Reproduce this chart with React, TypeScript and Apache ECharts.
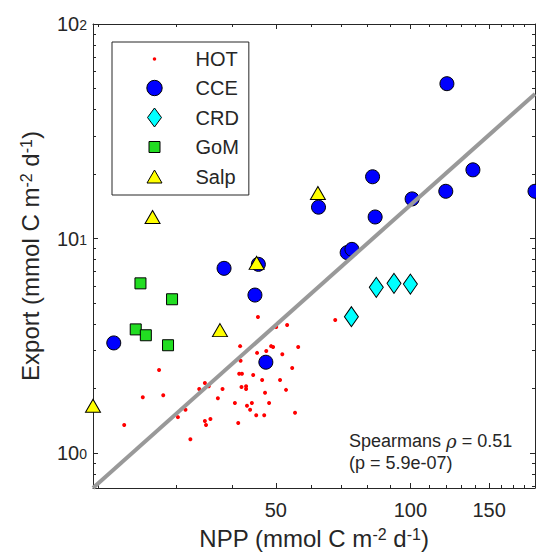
import React, { useEffect, useRef } from 'react';
import * as echarts from 'echarts';

// ---- data (NPP, Export) ----
const hotData: [number, number][] = [
  [22.9, 1.35], [25.2, 1.82], [27.4, 2.44], [28.0, 1.86], [30.2, 1.47], [31.4, 1.59],
  [32.2, 1.16], [33.7, 1.99], [34.7, 2.12], [34.7, 1.41], [34.9, 1.35], [35.4, 2.05],
  [35.7, 1.44], [37.1, 1.8], [38.0, 1.99], [40.5, 1.71], [41.2, 1.38], [41.6, 3.15],
  [41.7, 2.69], [41.4, 2.34], [42.0, 2.34], [41.9, 2.03], [42.9, 2.05], [42.9, 1.99],
  [43.1, 1.66], [43.8, 1.59], [44.2, 1.71], [44.5, 2.31], [45.2, 1.5], [45.4, 2.93],
  [45.6, 4.31], [46.6, 2.19], [47.1, 1.5], [47.3, 1.91], [47.6, 2.99], [48.3, 1.71],
  [48.8, 3.15], [49.3, 3.12], [50.1, 3.87], [51.1, 2.19], [51.7, 2.89], [52.7, 1.97],
  [53.0, 3.95], [54.4, 2.49], [55.2, 1.54], [56.1, 3.12], [67.9, 4.17]
];
const cceData: [number, number][] = [
  [21.7, 3.26], [38.3, 7.26], [44.9, 5.45], [45.7, 7.58], [47.5, 2.65], [62.3, 14.0],
  [72.2, 8.6], [74.0, 8.9], [82.3, 19.4], [83.4, 12.6], [100.9, 15.3], [120.7, 52.7],
  [120.0, 16.6], [138.0, 20.9], [190.0, 16.6]
];
const crdData: [number, number][] = [[73.8, 4.32], [83.9, 5.92], [91.9, 6.18], [100.0, 6.13]];
const gomData: [number, number][] = [[24.9, 6.18], [29.3, 5.21], [24.3, 3.77], [25.6, 3.54], [28.7, 3.18]];
const salpData: [number, number][] = [[19.5, 1.66], [37.5, 3.74], [26.5, 12.6], [45.3, 7.7], [62.1, 16.3]];
const fitX = [19.5, 190];
const fitY = [0.687, 47.2];

const seriesNames = ['HOT', 'CCE', 'CRD', 'GoM', 'Salp'];
const xRange = [19.5, 190];
const yRange = [0.687, 100];
const xMajorTicks = [50, 100, 150];
const xMinorTicks = [20, 30, 40, 60, 70, 80, 90, 110, 120, 130, 140, 160, 170, 180];
const yMajorTicks = [1, 10, 100];
const yMinorTicks = [0.7, 0.8, 0.9, 2, 3, 4, 5, 6, 7, 8, 9, 20, 30, 40, 50, 60, 70, 80, 90];
const spearmanRho = '0.51';
const pValue = '5.9e-07';

const FONT = "'Liberation Sans', Arial, Helvetica, sans-serif";
const INK = '#262626';
const lg = Math.log10;
const toLog = (pts: [number, number][]) => pts.map(([x, y]) => [lg(x), lg(y)]);

const titleRich = {
  n: { fontSize: 24, lineHeight: 24, verticalAlign: 'bottom', fontFamily: FONT, color: INK },
  s: { fontSize: 16, lineHeight: 16, verticalAlign: 'top', padding: [0, 0, 12, 0], fontFamily: FONT, color: INK },
};

const legendIcons = [
  'path://M0,0M20,20M8.2,10a1.8,1.8 0 1,0 3.6,0a1.8,1.8 0 1,0 -3.6,0z',
  'path://M0,0M20,20M2.3,10a7.7,7.7 0 1,0 15.4,0a7.7,7.7 0 1,0 -15.4,0z',
  'path://M0,0M20,20M10,0.5L17,10L10,19.5L3,10z',
  'path://M0,0M20,20M4.5,4.5L15.5,4.5L15.5,15.5L4.5,15.5z',
  'path://M0,0M20,20M10,3.5L17.5,16.5L2.5,16.5z',
];

function axisBase(range: number[]) {
  return {
    type: 'value',
    min: lg(range[0]),
    max: lg(range[1]),
    splitLine: { show: false },
    splitArea: { show: false },
  };
}

function tickAxis(range: number[], position: string, ticks: number[], len: number, showLine: boolean) {
  return {
    ...axisBase(range),
    position,
    axisLine: { show: showLine, onZero: false, lineStyle: { color: INK, width: 1 } },
    axisTick: { show: true, inside: true, length: len, customValues: ticks.map(lg), lineStyle: { color: INK, width: 1 } },
    axisLabel: { show: false },
  };
}

export default function App() {
  const ref = useRef<HTMLDivElement>(null);
  useEffect(() => {
    if (!ref.current) return;
    const chart = echarts.init(ref.current, null, { renderer: 'svg' });
    const option: any = {
      animation: false,
      backgroundColor: '#ffffff',
      grid: { left: 93, right: 1, top: 24, bottom: 72, containLabel: false },
      xAxis: [
        {
          ...tickAxis(xRange, 'bottom', xMajorTicks, 5, true),
          axisLabel: {
            show: true,
            customValues: xMajorTicks.map(lg),
            formatter: (v: number) => String(Math.round(Math.pow(10, v))),
            fontSize: 20, color: INK, fontFamily: FONT, margin: 12,
          },
          name: '{n|NPP (mmol C m}{s|-2}{n| d}{s|-1}{n|)}',
          nameLocation: 'middle',
          nameGap: 38,
          nameTextStyle: { fontFamily: FONT, color: INK, fontSize: 24, rich: titleRich },
        },
        tickAxis(xRange, 'bottom', xMinorTicks, 3, false),
        tickAxis(xRange, 'top', xMajorTicks, 5, true),
        tickAxis(xRange, 'top', xMinorTicks, 3, false),
      ],
      yAxis: [
        {
          ...tickAxis(yRange, 'left', yMajorTicks, 5, true),
          axisLabel: {
            show: true,
            customValues: yMajorTicks.map(lg),
            formatter: (v: number) => `{b|10}{s|${Math.round(v)}}`,
            margin: 6,
            rich: {
              b: { fontSize: 20, lineHeight: 20, verticalAlign: 'bottom', fontFamily: FONT, color: INK },
              s: { fontSize: 14, lineHeight: 14, verticalAlign: 'top', padding: [4, 0, 9, 0], fontFamily: FONT, color: INK },
            },
          },
          name: '{n|Export (mmol C m}{s|-2}{n| d}{s|-1}{n|)}',
          nameLocation: 'middle',
          nameRotate: 90,
          nameGap: 51,
          nameTextStyle: { fontFamily: FONT, color: INK, fontSize: 24, rich: titleRich },
        },
        tickAxis(yRange, 'left', yMinorTicks, 3, false),
        tickAxis(yRange, 'right', yMajorTicks, 5, true),
        tickAxis(yRange, 'right', yMinorTicks, 3, false),
      ],
      legend: {
        orient: 'vertical',
        left: 112,
        top: 42,
        padding: [7, 10, 8, 32],
        itemGap: 8.5,
        itemWidth: 20,
        itemHeight: 20,
        borderColor: INK,
        borderWidth: 1,
        borderRadius: 0,
        backgroundColor: '#ffffff',
        selectedMode: false,
        itemStyle: { borderWidth: 1, borderColor: '#000000' },
        textStyle: { fontSize: 20, color: INK, fontFamily: FONT, padding: [0, 0, 0, 26] },
        data: seriesNames.map((name, i) => ({
          name,
          icon: legendIcons[i],
          itemStyle: i === 0 ? { borderWidth: 0 } : { borderWidth: 1, borderColor: '#000000' },
        })),
      },
      series: [
        {
          type: 'scatter', name: seriesNames[0], data: toLog(hotData), symbol: 'circle', symbolSize: 4,
          itemStyle: { color: '#ff0000', borderWidth: 0, opacity: 1 }, clip: false,
        },
        {
          type: 'scatter', name: seriesNames[1], data: toLog(cceData), symbol: 'circle', symbolSize: 14,
          itemStyle: { color: '#0000ff', borderColor: '#000000', borderWidth: 1, opacity: 1 }, clip: false,
        },
        {
          type: 'scatter', name: seriesNames[2], data: toLog(crdData), symbol: 'diamond', symbolSize: [14, 20],
          itemStyle: { color: '#00ffff', borderColor: '#000000', borderWidth: 1, opacity: 1 }, clip: false,
        },
        {
          type: 'scatter', name: seriesNames[3], data: toLog(gomData), symbol: 'rect', symbolSize: 11,
          itemStyle: { color: '#22dd22', borderColor: '#000000', borderWidth: 1, opacity: 1 }, clip: false,
        },
        {
          type: 'scatter', name: seriesNames[4], data: toLog(salpData), symbol: 'triangle', symbolSize: [15, 13],
          itemStyle: { color: '#ffff00', borderColor: '#000000', borderWidth: 1, opacity: 1 }, clip: false,
        },
        {
          type: 'line', name: 'fit', data: fitX.map((x, i) => [lg(x), lg(fitY[i])]),
          symbol: 'none', showSymbol: false, silent: true, clip: false,
          lineStyle: { color: '#999999', width: 4 },
        },
      ],
      graphic: [
        {
          type: 'text',
          left: 349,
          top: 432,
          style: {
            text: `{n|Spearmans }{r|ρ}{n| = ${spearmanRho}}\n{n|(p = ${pValue})}`,
            fill: INK,
            font: `18px ${FONT}`,
            rich: {
              n: { fontSize: 18, lineHeight: 22, fontFamily: FONT, fill: INK },
              r: { fontSize: 18, lineHeight: 22, fontStyle: 'italic', fontFamily: "'DejaVu Serif', serif", fill: INK },
            },
          },
        },
      ],
    };
    chart.setOption(option);
    return () => chart.dispose();
  }, []);
  return (
    <div
      ref={ref}
      style={{ position: 'fixed', left: 0, top: 0, width: 536, height: 560, background: '#ffffff' }}
    />
  );
}
